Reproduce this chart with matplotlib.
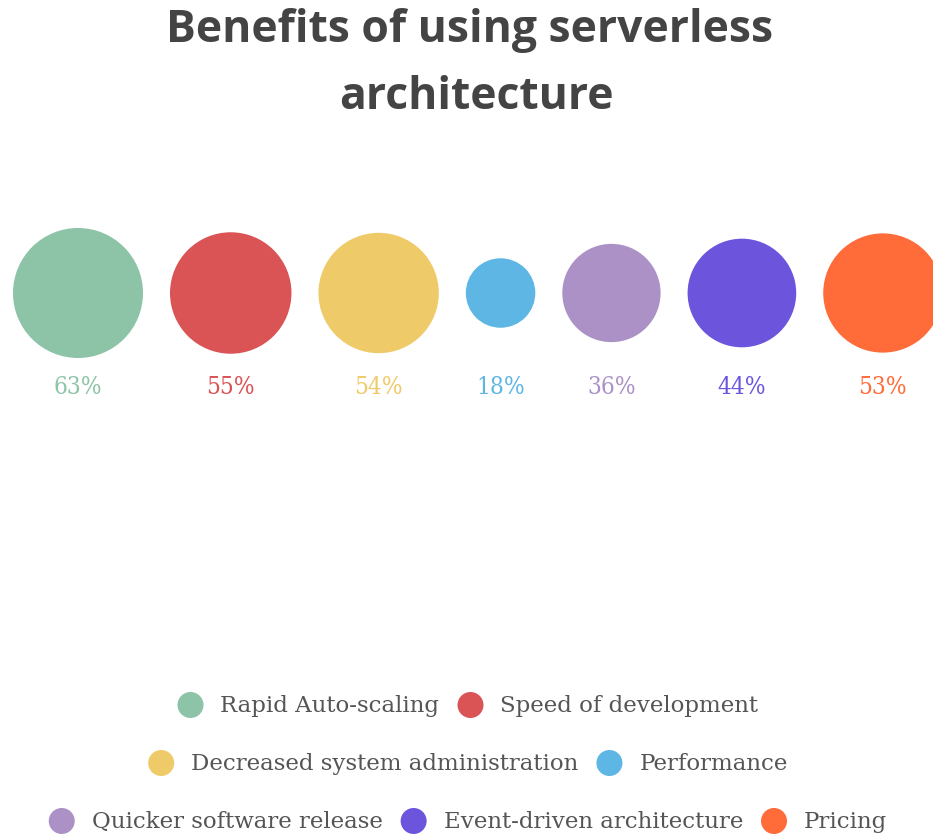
import numpy as np
import matplotlib
matplotlib.use("Agg")
import matplotlib.pyplot as plt
from matplotlib.patches import Circle

# data
labels = ["Rapid Auto-scaling", "Speed of development", "Decreased system administration",
          "Performance", "Quicker software release", "Event-driven architecture", "Pricing"]
values = [63, 55, 54, 18, 36, 44, 53]
colors = ["#8DC3A7", "#DA5355", "#EFCA69", "#5DB6E4", "#AB91C5", "#6C55DC", "#FF6B39"]
legend_rows = [[0, 1], [2, 3], [4, 5, 6]]

W, H = 933, 837
fig = plt.figure(figsize=(W / 100, H / 100), dpi=100)
ax = fig.add_axes([0, 0, 1, 1])
ax.set_xlim(0, W)
ax.set_ylim(H, 0)
ax.axis("off")

# title
title_font = dict(fontsize=32, fontweight="bold", family="Open Sans", color="#444444")
ax.text(470, 30, "Benefits of using serverless", ha="center", va="center", **title_font)
ax.text(476, 97, "architecture", ha="center", va="center", **title_font)

# bubbles: area proportional to value, packed with a constant gap
scale = 65 / np.sqrt(max(values))
radii = scale * np.sqrt(values)
gap = 27
cy = 294
x = 13
for v, r, c in zip(values, radii, colors):
    cx = x + r
    ax.add_patch(Circle((cx, cy), r, color=c, lw=0))
    ax.text(cx, 388, f"{v}%", ha="center", va="center", fontsize=17.5,
            family="DejaVu Serif", fontstretch="condensed", color=c)
    x = cx + r + gap

# legend, drawn row by row and centred
fig.canvas.draw()
renderer = fig.canvas.get_renderer()
legend_font = dict(fontsize=16.5, family="DejaVu Serif", color="#555555")
row_y = [706, 764, 822]
mr = 13
for row, y in zip(legend_rows, row_y):
    widths = []
    for i in row:
        t = ax.text(0, 0, labels[i], **legend_font)
        widths.append(t.get_window_extent(renderer).width)
        t.remove()
    item_gap = 18
    total = sum(2 * mr + 17 + w for w in widths) + item_gap * (len(row) - 1)
    x = 468 - total / 2
    for i, w in zip(row, widths):
        ax.add_patch(Circle((x + mr, y), mr, color=colors[i], lw=0))
        ax.text(x + 2 * mr + 17, y, labels[i], ha="left", va="center", **legend_font)
        x += 2 * mr + 17 + w + item_gap

fig.savefig("out.png", dpi=100, facecolor="white")
